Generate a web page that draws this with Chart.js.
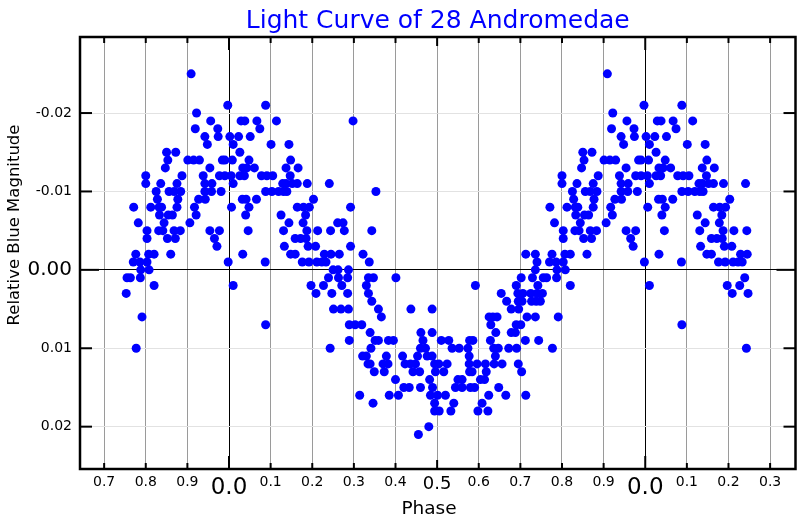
<!DOCTYPE html>
<html>
<head>
<meta charset="utf-8">
<script src="https://cdn.jsdelivr.net/npm/chart.js@4/dist/chart.umd.min.js"></script>
<style>
html,body{margin:0;padding:0;background:#fff;}
#wrap{width:800px;height:520px;}
</style>
</head>
<body>
<div id="wrap"><canvas id="c" width="800" height="520"></canvas></div>
<script>
// ---- DATA (one full cycle, phase in [0,1)) ----
const phases = [
  0.909,0.922,0.919,0.956,0.973,0.942,0.948,0.974,0.997,0.002,0.010,0.850,0.872,0.853,0.847,
  0.901,0.915,0.929,0.984,0.990,0.008,0.954,0.887,0.938,0.977,0.990,0.005,0.800,0.800,0.836,
  0.875,0.942,0.959,0.010,0.825,0.856,0.868,0.884,0.942,0.958,0.981,0.828,0.877,0.927,0.943,
  0.771,0.812,0.832,0.838,0.875,0.917,0.006,0.833,0.854,0.864,0.921,0.844,0.782,0.906,0.803,
  0.831,0.841,0.868,0.883,0.954,0.977,0.803,0.852,0.871,0.965,0.971,0.776,0.807,0.820,0.860,
  0.770,0.786,0.803,0.998,0.788,0.808,0.755,0.763,0.787,0.820,0.010,0.753,0.791,0.777,
  0.088,0.029,0.038,0.067,0.114,0.074,0.023,0.051,0.101,0.144,0.026,0.148,0.048,0.033,0.043,
  0.061,0.137,0.166,0.026,0.037,0.078,0.091,0.105,0.147,0.129,0.137,0.152,0.164,0.188,0.241,
  0.088,0.103,0.119,0.131,0.139,0.203,0.032,0.041,0.066,0.048,0.164,0.179,0.193,0.040,0.125,
  0.184,0.144,0.178,0.261,0.274,0.046,0.131,0.187,0.213,0.244,0.277,0.159,0.172,0.185,0.133,
  0.190,0.208,0.033,0.148,0.159,0.229,0.245,0.265,0.087,0.176,0.192,0.211,0.223,0.233,0.250,
  0.262,0.239,0.263,0.197,0.227,0.271,0.209,0.247,0.251,0.269,0.088,0.243,0.298,
  0.353,0.292,0.343,0.292,0.322,0.337,0.287,0.285,0.335,0.347,0.401,0.330,0.285,0.335,0.343,
  0.287,0.359,0.437,0.488,0.366,0.289,0.303,0.319,0.339,0.461,0.488,0.351,0.359,0.383,0.395,
  0.289,0.466,0.510,0.528,0.341,0.460,0.472,0.536,0.321,0.330,0.378,0.417,0.453,0.476,0.488,
  0.334,0.339,0.370,0.382,0.423,0.436,0.448,0.494,0.504,0.524,0.349,0.373,0.442,0.458,0.496,
  0.516,0.400,0.482,0.420,0.433,0.460,0.489,0.314,0.385,0.407,0.484,0.501,0.520,0.346,0.494,
  0.494,0.505,0.480,0.455,
  0.713,0.736,0.740,0.736,0.702,0.729,0.592,0.690,0.742,0.654,0.694,0.706,0.725,0.740,0.667,
  0.695,0.704,0.727,0.738,0.748,0.678,0.696,0.625,0.634,0.644,0.716,0.736,0.629,0.690,0.701,
  0.641,0.678,0.688,0.578,0.586,0.628,0.712,0.744,0.553,0.574,0.636,0.647,0.672,0.691,0.640,
  0.577,0.577,0.596,0.616,0.637,0.656,0.695,0.578,0.584,0.618,0.703,0.550,0.560,0.604,0.614,
  0.544,0.560,0.580,0.590,0.648,0.624,0.665,0.713,0.540,0.608,0.533,0.598,0.622
];
const magnitudes = [
  -0.025,-0.020,-0.018,-0.019,-0.018,-0.017,-0.016,-0.017,-0.021,-0.017,-0.016,-0.015,-0.015,-0.014,-0.013,
  -0.014,-0.014,-0.014,-0.014,-0.014,-0.014,-0.013,-0.012,-0.012,-0.012,-0.012,-0.012,-0.012,-0.011,-0.011,
  -0.011,-0.011,-0.011,-0.011,-0.010,-0.010,-0.010,-0.010,-0.010,-0.010,-0.010,-0.009,-0.009,-0.009,-0.009,
  -0.008,-0.008,-0.008,-0.008,-0.008,-0.008,-0.008,-0.007,-0.007,-0.007,-0.007,-0.006,-0.006,-0.006,-0.005,
  -0.005,-0.005,-0.005,-0.005,-0.005,-0.005,-0.004,-0.004,-0.004,-0.004,-0.003,-0.002,-0.002,-0.002,-0.002,
  -0.001,-0.001,-0.001,-0.001,0.000,0.000,0.001,0.001,0.001,0.002,0.002,0.003,0.006,0.010,
  -0.021,-0.019,-0.019,-0.019,-0.019,-0.018,-0.017,-0.017,-0.016,-0.016,-0.015,-0.014,-0.014,-0.013,-0.013,
  -0.013,-0.013,-0.013,-0.012,-0.012,-0.012,-0.012,-0.012,-0.012,-0.011,-0.011,-0.011,-0.011,-0.011,-0.011,
  -0.010,-0.010,-0.010,-0.010,-0.010,-0.009,-0.009,-0.009,-0.009,-0.008,-0.008,-0.008,-0.008,-0.007,-0.007,
  -0.007,-0.006,-0.006,-0.006,-0.006,-0.005,-0.005,-0.005,-0.005,-0.005,-0.005,-0.004,-0.004,-0.004,-0.003,
  -0.003,-0.003,-0.002,-0.002,-0.002,-0.002,-0.002,-0.002,-0.001,-0.001,-0.001,-0.001,-0.001,-0.001,0.000,
  0.000,0.001,0.001,0.002,0.002,0.002,0.003,0.003,0.005,0.005,0.007,0.010,-0.019,
  -0.010,-0.008,-0.005,-0.003,-0.002,-0.001,0.000,0.001,0.001,0.001,0.001,0.002,0.003,0.003,0.004,
  0.005,0.005,0.005,0.005,0.006,0.007,0.007,0.007,0.008,0.008,0.008,0.009,0.009,0.009,0.009,
  0.009,0.009,0.009,0.009,0.010,0.010,0.010,0.010,0.011,0.011,0.011,0.011,0.011,0.011,0.011,
  0.012,0.012,0.012,0.012,0.012,0.012,0.012,0.012,0.012,0.012,0.013,0.013,0.013,0.013,0.013,
  0.013,0.014,0.014,0.015,0.015,0.015,0.015,0.016,0.016,0.016,0.016,0.016,0.016,0.017,0.017,
  0.018,0.018,0.020,0.021,
  -0.002,-0.002,-0.001,0.000,0.001,0.001,0.002,0.002,0.002,0.003,0.003,0.003,0.003,0.003,0.004,
  0.004,0.004,0.004,0.004,0.004,0.005,0.005,0.006,0.006,0.006,0.006,0.006,0.007,0.007,0.007,
  0.008,0.008,0.008,0.009,0.009,0.009,0.009,0.009,0.010,0.010,0.010,0.010,0.010,0.010,0.011,
  0.011,0.012,0.012,0.012,0.012,0.012,0.012,0.013,0.013,0.013,0.013,0.014,0.014,0.014,0.014,
  0.015,0.015,0.015,0.015,0.015,0.016,0.016,0.016,0.017,0.017,0.018,0.018,0.018
];
const xTickValues = [-0.3,-0.2,-0.1,0.0,0.1,0.2,0.3,0.4,0.5,0.6,0.7,0.8,0.9,1.0,1.1,1.2,1.3];
const xTickLabels = ['0.7','0.8','0.9','0.0','0.1','0.2','0.3','0.4','0.5','0.6','0.7','0.8','0.9','0.0','0.1','0.2','0.3'];
const yTickValues = [-0.02,-0.01,0.0,0.01,0.02];
const yTickLabels = ['-0.02','-0.01','0.00','0.01','0.02'];
const chartTitle = 'Light Curve of 28 Andromedae';
const xAxisTitle = 'Phase';
const yAxisTitle = 'Relative Blue Magnitude';

// fold: show phases 0.75..1.25 on both sides (-0.25..0.25 and 0.75..1.25)
const points = [];
phases.forEach((p, i) => {
  const m = magnitudes[i];
  points.push({x: p, y: m});
  if (p < 0.25) points.push({x: p + 1, y: m});
  if (p >= 0.75) points.push({x: p - 1, y: m});
});

const FONT = '"DejaVu Sans", "Liberation Sans", sans-serif';

const decorPlugin = {
  id: 'decor',
  afterDraw(chart) {
    const {ctx, chartArea: a, scales: {x, y}} = chart;
    ctx.save();
    ctx.strokeStyle = '#000';
    ctx.lineWidth = 2;
    const line = (x1, y1, x2, y2) => { ctx.beginPath(); ctx.moveTo(x1, y1); ctx.lineTo(x2, y2); ctx.stroke(); };
    xTickValues.forEach((v, i) => {
      const px = x.getPixelForValue(v);
      const lab = xTickLabels[i];
      const len = lab === '0.0' ? 13 : (lab === '0.5' ? 9 : 6);
      line(px, a.bottom, px, a.bottom - len);
      line(px, a.top, px, a.top + len);
    });
    yTickValues.forEach((v, i) => {
      const py = y.getPixelForValue(v);
      const len = yTickLabels[i] === '0.00' ? 19 : 12;
      line(a.left, py, a.left + len, py);
      line(a.right, py, a.right - len, py);
    });
    ctx.lineWidth = 2.5;
    ctx.strokeRect(a.left, a.top, a.right - a.left, a.bottom - a.top);

    // title
    ctx.fillStyle = '#0000ff';
    ctx.font = '25px ' + FONT;
    ctx.textAlign = 'center';
    ctx.textBaseline = 'alphabetic';
    ctx.fillText(chartTitle, (a.left + a.right) / 2, 28);
    // x axis title
    ctx.fillStyle = '#000';
    ctx.font = '18.5px ' + FONT;
    ctx.fillText(xAxisTitle, 429, 514);
    // y axis title
    ctx.translate(18.5, 225);
    ctx.rotate(-Math.PI / 2);
    ctx.font = '16.5px ' + FONT;
    ctx.fillText(yAxisTitle, 0, 0);
    ctx.restore();
  }
};

new Chart(document.getElementById('c'), {
  type: 'scatter',
  data: {
    datasets: [{
      data: points,
      pointRadius: 4.5,
      pointHoverRadius: 4.5,
      pointBackgroundColor: '#0000ff',
      pointBorderWidth: 0,
      borderWidth: 0
    }]
  },
  options: {
    responsive: false,
    animation: false,
    devicePixelRatio: 1,
    layout: {padding: {top: 37, right: 4, left: 0, bottom: 0}},
    plugins: {legend: {display: false}, tooltip: {enabled: false}, title: {display: false}},
    scales: {
      x: {
        type: 'linear',
        min: -0.358,
        max: 1.361,
        afterBuildTicks: s => { s.ticks = xTickValues.map(v => ({value: v})); },
        afterFit: s => { s.height = 51; },
        border: {display: false},
        grid: {
          drawTicks: false,
          lineWidth: 1,
          color: c => (c.tick && xTickLabels[c.index] === '0.0') ? '#000' : '#9a9a9a'
        },
        ticks: {
          padding: 5,
          color: '#000',
          maxRotation: 0,
          autoSkip: false,
          callback: (v, i) => xTickLabels[i],
          font: c => ({family: FONT, size: xTickLabels[c.index] === '0.0' ? 23 : (xTickLabels[c.index] === '0.5' ? 18 : 14)})
        }
      },
      y: {
        type: 'linear',
        reverse: true,
        min: -0.0297,
        max: 0.0254,
        afterBuildTicks: s => { s.ticks = yTickValues.map(v => ({value: v})); },
        afterFit: s => { s.width = 80; },
        border: {display: false},
        grid: {
          drawTicks: false,
          lineWidth: 1,
          color: c => (c.tick && yTickLabels[c.index] === '0.00') ? '#000' : '#e2e2e2'
        },
        ticks: {
          padding: 8,
          color: '#000',
          autoSkip: false,
          callback: (v, i) => yTickLabels[i],
          font: c => ({family: FONT, size: yTickLabels[c.index] === '0.00' ? 20 : 14})
        }
      }
    }
  },
  plugins: [decorPlugin]
});
</script>
</body>
</html>
